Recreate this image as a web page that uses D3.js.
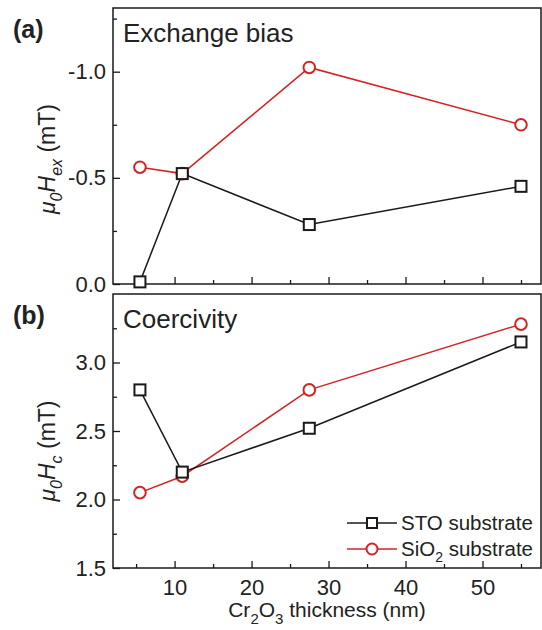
<!DOCTYPE html>
<html>
<head>
<meta charset="utf-8">
<script src="https://cdn.jsdelivr.net/npm/d3@7"></script>
<style>
  html, body { margin: 0; padding: 0; background: #fff; }
  svg { display: block; font-family: "Liberation Sans", Arial, sans-serif; }
</style>
</head>
<body>
<svg id="chart" width="542" height="630"></svg>
<script>
// Cr2O3 thickness (nm)
const thickness = [5.5, 11, 27.5, 55];
// Exchange bias (mT)
const hexSTO  = [-0.01, -0.52, -0.28, -0.46];
const hexSiO2 = [-0.55, -0.52, -1.02, -0.75];
// Coercivity (mT)
const hcSTO  = [2.80, 2.20, 2.52, 3.15];
const hcSiO2 = [2.05, 2.17, 2.80, 3.28];

const xTicks = [10, 20, 30, 40, 50];
const xMinor = [5, 15, 25, 35, 45, 55];
const hexTicks = [0, -0.5, -1.0];
const hexMinor = [-0.25, -0.75, -1.25];
const hcTicks = [1.5, 2.0, 2.5, 3.0];
const hcMinor = [1.75, 2.25, 2.75, 3.25];

const BLACK = "#1a1a1a";
const RED = "#d42323";
const TEXT = "#222";

const svg = d3.select("#chart");
const left = 113, right = 541;

const x = d3.scaleLinear().domain([2, 57.6]).range([left, right]);
const fmt1 = d => d.toFixed(1);

const panels = [
  {
    top: 8, bottom: 284, domain: [0, -1.3],
    ticks: hexTicks, minor: hexMinor,
    sto: hexSTO, sio: hexSiO2, tag: "(a)", title: "Exchange bias",
    ylab: "ex", labY: 159, showX: false
  },
  {
    top: 294, bottom: 568, domain: [1.5, 3.5],
    ticks: hcTicks, minor: hcMinor,
    sto: hcSTO, sio: hcSiO2, tag: "(b)", title: "Coercivity",
    ylab: "c", labY: 451, showX: true
  }
];

panels.forEach(p => {
  const y = d3.scaleLinear().domain(p.domain).range([p.bottom, p.top]);
  const g = svg.append("g");

  // y axis: major ticks with labels, minor ticks, all pointing inward
  const yAxis = g.append("g").attr("transform", `translate(${left},0)`)
    .call(d3.axisLeft(y).tickValues(p.ticks).tickFormat(fmt1).tickSizeInner(-7).tickSizeOuter(0).tickPadding(7));
  yAxis.select(".domain").remove();
  yAxis.selectAll("line").attr("stroke", BLACK).attr("stroke-width", 1.3);
  yAxis.selectAll("text").attr("fill", TEXT).style("font-size", "22px");

  const yMin = g.append("g").attr("transform", `translate(${left},0)`)
    .call(d3.axisLeft(y).tickValues(p.minor).tickFormat("").tickSizeInner(-4).tickSizeOuter(0));
  yMin.select(".domain").remove();
  yMin.selectAll("line").attr("stroke", BLACK).attr("stroke-width", 1.3);

  // x axis ticks at the panel bottom, pointing inward
  const xAxis = g.append("g").attr("transform", `translate(0,${p.bottom})`)
    .call(d3.axisBottom(x).tickValues(xTicks).tickFormat(p.showX ? d3.format("d") : "").tickSizeInner(-7).tickSizeOuter(0).tickPadding(11));
  xAxis.select(".domain").remove();
  xAxis.selectAll("line").attr("stroke", BLACK).attr("stroke-width", 1.3);
  xAxis.selectAll("text").attr("fill", TEXT).style("font-size", "22px");

  const xMin = g.append("g").attr("transform", `translate(0,${p.bottom})`)
    .call(d3.axisBottom(x).tickValues(xMinor).tickFormat("").tickSizeInner(-4).tickSizeOuter(0));
  xMin.select(".domain").remove();
  xMin.selectAll("line").attr("stroke", BLACK).attr("stroke-width", 1.3);

  // frame
  g.append("rect")
    .attr("x", left).attr("y", p.top)
    .attr("width", right - left).attr("height", p.bottom - p.top)
    .attr("fill", "none").attr("stroke", BLACK).attr("stroke-width", 1.5);

  const line = d3.line().x((d, i) => x(thickness[i])).y(d => y(d));

  // SiO2 series (red circles)
  g.append("path").datum(p.sio).attr("d", line)
    .attr("fill", "none").attr("stroke", RED).attr("stroke-width", 1.5);
  g.selectAll("circle.sio").data(p.sio).join("circle").attr("class", "sio")
    .attr("cx", (d, i) => x(thickness[i])).attr("cy", d => y(d)).attr("r", 5.8)
    .attr("fill", "#fff").attr("stroke", RED).attr("stroke-width", 2);

  // STO series (black squares)
  g.append("path").datum(p.sto).attr("d", line)
    .attr("fill", "none").attr("stroke", BLACK).attr("stroke-width", 1.5);
  g.selectAll("rect.sto").data(p.sto).join("rect").attr("class", "sto")
    .attr("x", (d, i) => x(thickness[i]) - 5.5).attr("y", d => y(d) - 5.5)
    .attr("width", 11).attr("height", 11)
    .attr("fill", "#fff").attr("stroke", BLACK).attr("stroke-width", 2);

  // panel tag and title
  g.append("text").attr("x", 13).attr("y", p.top + 30)
    .attr("fill", TEXT).style("font-size", "25px").style("font-weight", "bold")
    .text(p.tag);
  g.append("text").attr("x", left + 10).attr("y", p.top + 34)
    .attr("fill", TEXT).style("font-size", "26px")
    .text(p.title);

  // rotated y-axis label: μ0H_sub (mT)
  const lab = g.append("text")
    .attr("transform", `translate(55,${p.labY}) rotate(-90)`)
    .attr("text-anchor", "middle").attr("fill", TEXT).style("font-size", "23px");
  lab.append("tspan").style("font-style", "italic").text("μ");
  lab.append("tspan").style("font-style", "italic").style("font-size", "16px").attr("dy", 7).text("0");
  lab.append("tspan").style("font-style", "italic").attr("dy", -7).text("H");
  lab.append("tspan").style("font-style", "italic").style("font-size", "16px").attr("dy", 7).text(p.ylab);
  lab.append("tspan").attr("dy", -7).text(" (mT)");
});

// x-axis title
const xt = svg.append("text").attr("x", (left + right) / 2).attr("y", 617)
  .attr("text-anchor", "middle").attr("fill", TEXT).style("font-size", "21px");
xt.append("tspan").text("Cr");
xt.append("tspan").style("font-size", "15px").attr("dy", 7).text("2");
xt.append("tspan").attr("dy", -7).text("O");
xt.append("tspan").style("font-size", "15px").attr("dy", 7).text("3");
xt.append("tspan").attr("dy", -7).text(" thickness (nm)");

// legend
const legend = [
  { name: "STO", color: BLACK, shape: "square" },
  { name: "SiO2", color: RED, shape: "circle" }
];
legend.forEach((L, i) => {
  const yy = 523 + i * 26, x0 = 347, x1 = 397, xm = 372;
  svg.append("line").attr("x1", x0).attr("x2", x1).attr("y1", yy).attr("y2", yy)
    .attr("stroke", L.color).attr("stroke-width", 1.5);
  if (L.shape === "square") {
    svg.append("rect").attr("x", xm - 5).attr("y", yy - 5).attr("width", 10).attr("height", 10)
      .attr("fill", "#fff").attr("stroke", L.color).attr("stroke-width", 2);
  } else {
    svg.append("circle").attr("cx", xm).attr("cy", yy).attr("r", 5.5)
      .attr("fill", "#fff").attr("stroke", L.color).attr("stroke-width", 2);
  }
  const t = svg.append("text").attr("x", 401).attr("y", yy + 7)
    .attr("fill", TEXT).style("font-size", "20.5px");
  if (L.name === "SiO2") {
    t.append("tspan").text("SiO");
    t.append("tspan").style("font-size", "14px").attr("dy", 6).text("2");
    t.append("tspan").attr("dy", -6).text(" substrate");
  } else {
    t.append("tspan").text("STO substrate");
  }
});
</script>
</body>
</html>
